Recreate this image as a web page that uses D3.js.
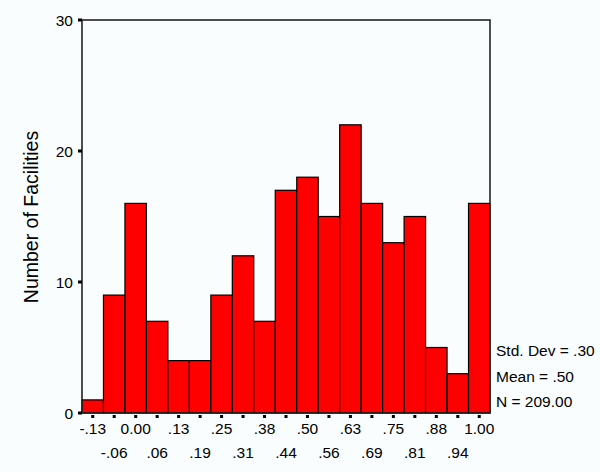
<!DOCTYPE html>
<html>
<head>
<meta charset="utf-8">
<script src="https://cdn.jsdelivr.net/npm/d3@7"></script>
<style>
  body { margin: 0; background: #f9fdfd; }
  text { font-family: "Liberation Sans", Arial, sans-serif; fill: #000; }
</style>
</head>
<body>
<svg id="chart"></svg>
<script>
// bin midpoints and counts
var bins = ["-.13", "-.06", "0.00", ".06", ".13", ".19", ".25", ".31", ".38", ".44",
            ".50", ".56", ".63", ".69", ".75", ".81", ".88", ".94", "1.00"];
var counts = [1, 9, 16, 7, 4, 4, 9, 12, 7, 17, 18, 15, 22, 16, 13, 15, 5, 3, 16];
var yTicks = [0, 10, 20, 30];
var stats = ["Std. Dev = .30", "Mean = .50", "N = 209.00"];

var width = 600, height = 472;
var plotL = 82, plotR = 490, plotT = 20, plotB = 413;

var svg = d3.select("#chart").attr("width", width).attr("height", height);

var x = d3.scaleBand().domain(bins).range([plotL, plotR]).padding(0);
var y = d3.scaleLinear().domain([0, 30]).range([plotB, plotT]);

// bars
svg.selectAll("rect.bar")
    .data(counts)
    .enter()
    .append("rect")
    .attr("class", "bar")
    .attr("x", function (d, i) { return x(bins[i]); })
    .attr("y", function (d) { return y(d); })
    .attr("width", x.bandwidth())
    .attr("height", function (d) { return plotB - y(d); })
    .attr("fill", "#ff0000")
    .attr("stroke", "#000")
    .attr("stroke-width", 1.2);

// frame
svg.append("rect")
    .attr("x", plotL).attr("y", plotT)
    .attr("width", plotR - plotL).attr("height", plotB - plotT)
    .attr("fill", "none")
    .attr("stroke", "#222")
    .attr("stroke-width", 1.6);

// y axis ticks + labels
svg.selectAll("rect.ytick")
    .data(yTicks)
    .enter()
    .append("rect")
    .attr("x", plotL - 4)
    .attr("y", function (d) { return y(d) - 1.5; })
    .attr("width", 4).attr("height", 3)
    .attr("fill", "#000");

svg.selectAll("text.ylab")
    .data(yTicks)
    .enter()
    .append("text")
    .attr("x", plotL - 9)
    .attr("y", function (d) { return y(d) + 5.5; })
    .attr("text-anchor", "end")
    .style("font-size", "15.5px")
    .text(function (d) { return d; });

// x ticks
svg.selectAll("rect.xtick")
    .data(bins)
    .enter()
    .append("rect")
    .attr("x", function (d) { return x(d) + x.bandwidth() / 2 - 1.5; })
    .attr("y", plotB + 2)
    .attr("width", 3).attr("height", 3)
    .attr("fill", "#000");

// x labels, alternating two rows
svg.selectAll("text.xlab")
    .data(bins)
    .enter()
    .append("text")
    .attr("x", function (d) { return x(d) + x.bandwidth() / 2; })
    .attr("y", function (d, i) { return i % 2 === 0 ? 434 : 458; })
    .attr("text-anchor", "middle")
    .style("font-size", "15.5px")
    .text(function (d) { return d; });

// y axis title
svg.append("text")
    .attr("transform", "translate(38,217) rotate(-90)")
    .attr("text-anchor", "middle")
    .style("font-size", "19.5px")
    .text("Number of Facilities");

// stats
svg.selectAll("text.stat")
    .data(stats)
    .enter()
    .append("text")
    .attr("x", 496)
    .attr("y", function (d, i) { return 356 + i * 25.5; })
    .style("font-size", "15.5px")
    .text(function (d) { return d; });
</script>
</body>
</html>
